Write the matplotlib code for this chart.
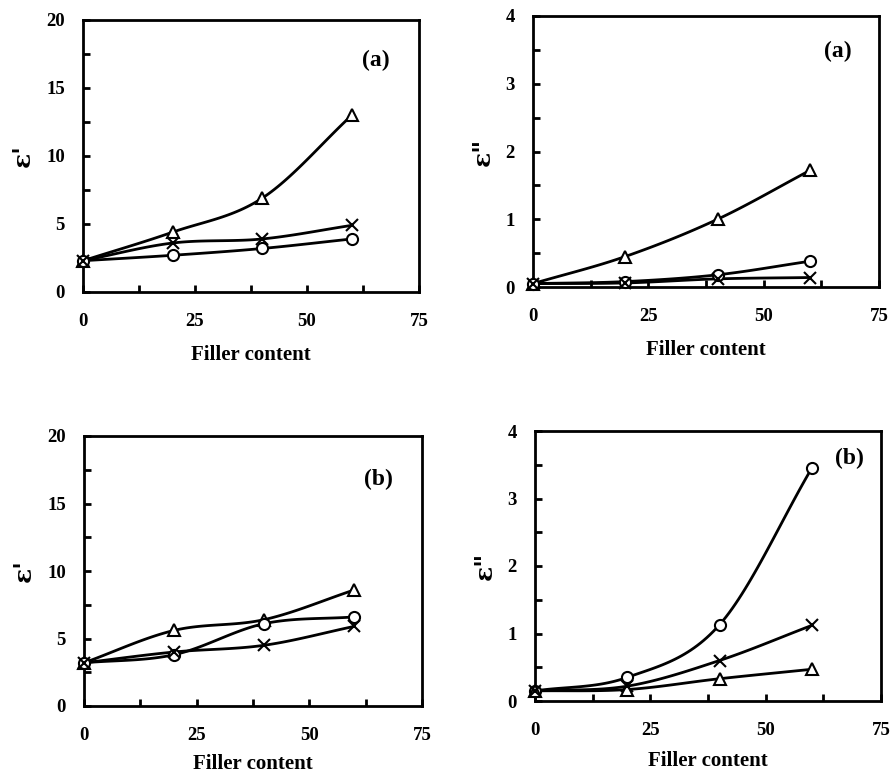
import numpy as np
import matplotlib
matplotlib.use("Agg")
import matplotlib.pyplot as plt

plt.rcParams['font.family'] = ['Liberation Serif', 'DejaVu Serif']
plt.rcParams['font.weight'] = 'bold'

# Data: filler content and permittivity values
filler = [0, 20, 40, 60]

# (a) real part
a_re_tri = [2.3, 4.4, 6.9, 13.0]
a_re_x = [2.3, 3.6, 3.9, 4.9]
a_re_circ = [2.3, 2.7, 3.2, 3.9]

# (a) imaginary part
a_im_tri = [0.05, 0.45, 1.0, 1.72]
a_im_circ = [0.05, 0.08, 0.18, 0.38]
a_im_x = [0.05, 0.06, 0.12, 0.14]

# (b) real part
b_re_tri = [3.2, 5.6, 6.4, 8.6]
b_re_circ = [3.2, 3.8, 6.1, 6.6]
b_re_x = [3.2, 4.0, 4.5, 5.9]

# (b) imaginary part
b_im_circ = [0.15, 0.35, 1.13, 3.45]
b_im_x = [0.15, 0.22, 0.6, 1.12]
b_im_tri = [0.15, 0.17, 0.33, 0.47]


def smooth(x, y, n=30):
    # Catmull-Rom style smoothing like a spreadsheet "smoothed line"
    x = np.asarray(x, float)
    y = np.asarray(y, float)
    px = np.concatenate([[2 * x[0] - x[1]], x, [2 * x[-1] - x[-2]]])
    py = np.concatenate([[2 * y[0] - y[1]], y, [2 * y[-1] - y[-2]]])
    xs, ys = [], []
    t = np.linspace(0, 1, n)
    for i in range(1, len(px) - 2):
        p0, p1, p2, p3 = [np.array([px[j], py[j]]) for j in range(i - 1, i + 3)]
        c1 = p1 + (p2 - p0) / 6
        c2 = p2 - (p3 - p1) / 6
        pts = ((1 - t) ** 3)[:, None] * p1 + (3 * (1 - t) ** 2 * t)[:, None] * c1 \
            + (3 * (1 - t) * t ** 2)[:, None] * c2 + (t ** 3)[:, None] * p2
        xs.extend(pts[:, 0])
        ys.extend(pts[:, 1])
    return xs, ys


def series(ax, y, marker, ms):
    sx, sy = smooth(filler, y)
    z = 4 if marker == 'x' else 3
    ax.plot(sx, sy, color='black', lw=2.0, zorder=2, clip_on=False)
    ax.plot(filler, y, linestyle='none', marker=marker, ms=ms, mfc='white',
            mec='black', mew=1.5, zorder=z, clip_on=False)


def setup(ax, ymax, ystep, ylabel, tag, tagpos, xlabelpad=11):
    ax.set_xlim(0, 75)
    ax.set_ylim(0, ymax)
    ax.set_xticks([0, 25, 50, 75])
    ax.set_xticks([12.5, 37.5, 62.5], minor=True)
    ax.set_yticks(np.arange(0, ymax + 0.001, ystep))
    ax.set_yticks(np.arange(ystep / 2, ymax, ystep), minor=True)
    ax.tick_params(which='both', direction='in', top=False, right=False,
                   width=2.0, labelsize=13.5)
    ax.tick_params(which='major', length=5)
    ax.tick_params(which='minor', length=5)
    ax.tick_params(axis='x', which='both', pad=15)
    ax.tick_params(axis='y', which='both', pad=13)
    for s in ax.spines.values():
        s.set_linewidth(2.0)
    ax.set_xlabel('Filler content', fontsize=15, fontweight='bold', labelpad=xlabelpad)
    ax.set_ylabel(ylabel, fontsize=18, fontweight='bold', family='DejaVu Serif',
                  labelpad=8)
    ax.text(tagpos[0], tagpos[1], tag, transform=ax.transAxes, fontsize=17,
            fontweight='bold', ha='center', va='center')


W, H = 892, 776
fig = plt.figure(figsize=(W / 100, H / 100), dpi=100)


def axes_px(left, right, top, bottom):
    return fig.add_axes([left / W, (H - bottom) / H, (right - left) / W, (bottom - top) / H])


ax1 = axes_px(83, 419, 20, 292)
series(ax1, a_re_tri, '^', 8)
series(ax1, a_re_x, 'x', 9)
series(ax1, a_re_circ, 'o', 8)
setup(ax1, 20, 5, "ε'", '(a)', (0.87, 0.85))

ax2 = axes_px(533, 879, 16, 287)
series(ax2, a_im_tri, '^', 8)
series(ax2, a_im_circ, 'o', 8)
series(ax2, a_im_x, 'x', 9)
setup(ax2, 4, 1, 'ε"', '(a)', (0.88, 0.87))

ax3 = axes_px(84, 422, 436, 706)
series(ax3, b_re_tri, '^', 8)
series(ax3, b_re_circ, 'o', 8)
series(ax3, b_re_x, 'x', 9)
setup(ax3, 20, 5, "ε'", '(b)', (0.87, 0.84), xlabelpad=7)

ax4 = axes_px(535, 881, 431, 701)
series(ax4, b_im_circ, 'o', 8)
series(ax4, b_im_x, 'x', 9)
series(ax4, b_im_tri, '^', 8)
setup(ax4, 4, 1, 'ε"', '(b)', (0.91, 0.90), xlabelpad=9)

fig.savefig('out.png', dpi=100)
